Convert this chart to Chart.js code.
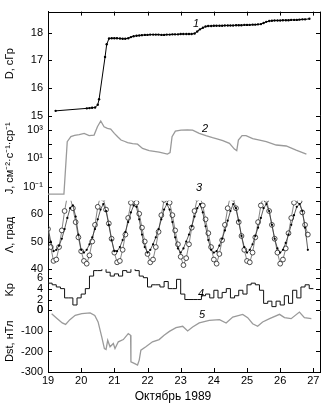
<!DOCTYPE html>
<html>
<head>
<meta charset="utf-8">
<script src="https://cdn.jsdelivr.net/npm/chart.js@4"></script>
<style>
  body { margin: 0; background: #fff; }
  canvas { display: block; }
</style>
</head>
<body>
<canvas id="chart" width="329" height="405"></canvas>
<script>
// 1 - доза D, сГр
const doseDays = [19.23, 20.17, 20.25, 20.33, 20.42, 20.5, 20.54, 20.72, 20.77, 20.84,
  20.92, 21.0, 21.08, 21.17, 21.25, 21.33, 21.42, 21.5, 21.58, 21.67,
  21.75, 21.83, 21.92, 22.0, 22.08, 22.17, 22.25, 22.33, 22.42, 22.5,
  22.58, 22.67, 22.75, 22.83, 22.92, 23.0, 23.08, 23.17, 23.25, 23.33,
  23.42, 23.5, 23.58, 23.67, 23.75, 23.83, 23.92, 24.0, 24.08, 24.17,
  24.25, 24.33, 24.42, 24.5, 24.58, 24.67, 24.75, 24.83, 24.92, 25.0,
  25.08, 25.17, 25.25, 25.33, 25.42, 25.5, 25.58, 25.67, 25.75, 25.83,
  25.92, 26.0, 26.08, 26.17, 26.25, 26.33, 26.42, 26.5, 26.58, 26.67,
  26.75, 26.88];
const doseValues = [15.18, 15.27, 15.28, 15.29, 15.3, 15.4, 15.6, 17.12, 17.58, 17.79,
  17.8, 17.8, 17.8, 17.79, 17.78, 17.78, 17.8, 17.84, 17.87, 17.89,
  17.9, 17.91, 17.92, 17.92, 17.93, 17.93, 17.93, 17.93, 17.92, 17.92,
  17.93, 17.93, 17.94, 17.94, 17.94, 17.95, 17.95, 17.95, 17.95, 17.95,
  17.97, 18.04, 18.12, 18.18, 18.22, 18.24, 18.24, 18.25, 18.25, 18.25,
  18.25, 18.26, 18.26, 18.26, 18.26, 18.27, 18.27, 18.27, 18.28, 18.28,
  18.28, 18.29, 18.29, 18.3, 18.31, 18.35, 18.39, 18.42, 18.43, 18.44,
  18.44, 18.44, 18.45, 18.45, 18.45, 18.46, 18.46, 18.46, 18.47, 18.48,
  18.48, 18.5];

// 2 - поток J
const fluxDays = [19.0, 19.48, 19.58, 19.69, 19.8, 19.94, 20.09, 20.24, 20.39, 20.49,
  20.59, 20.69, 20.79, 20.89, 21.0, 21.1, 21.2, 21.3, 21.4, 21.55,
  21.7, 21.85, 22.05, 22.35, 22.6, 22.68, 22.74, 22.84, 23.01, 23.2,
  23.36, 23.56, 23.76, 23.96, 24.12, 24.27, 24.47, 24.62, 24.69, 24.74,
  24.85, 24.97, 25.17, 25.38, 25.58, 25.88, 26.18, 26.48, 26.79];
const fluxValues = [0.029, 0.029, 150, 340, 420, 470, 575, 400, 440, 1700,
  4300, 1700, 1290, 1150, 575, 330, 195, 160, 130, 107,
  100, 50, 35, 27, 20, 25, 340, 830, 980, 1000,
  980, 575, 400, 290, 230, 180, 115, 45, 35, 195,
  400, 400, 245, 190, 150, 87, 74, 38, 20];

// 3 - широта Λ, отсчёты через 2 часа с 19.0
const lamStart = 19;
const lamStep = 1 / 12;
const lamCircles = [
  54.5, 48, 43, 43.5, 48, 54, 61, 66.5, 66, 62, 57, 51.5,
  46.5, 43, 42, 45, 50, 56, 62.5, 66.5, 65.5, 61.5, 56.5, 51,
  46, 42.5, 43, 47, 52.5, 58.5, 64, 66.5, 64, 60, 55, 50,
  45.5, 42.5, 43.5, 48, 53.5, 59.5, 65, 66.5, 64, 59.5, 54, 49,
  44.5, 41.5, 44, 49, 55, 61, 65.5, 66, 63, 58, 53, 48,
  43.5, 42, 45.5, 50.5, 56, 62, 66.5, 65.5, 62, 57, 52, 47,
  43, 42.5, 46, 51.5, 57, 63, 66.5, 65, 61, 56, 51, 46,
  42, 43.5, 47.5, 53, 58.5, 64, 66.5, 64.5, 60.5, 56, 52.5];
const lamDots = [
  55, 50, 46.5, 47, 48.5, 51, 54.5, 58.5, 62, 63, 59, 52.5,
  47, 46, 47, 49, 51.5, 54.5, 58, 61.5, 63.5, 61, 56, 50.5,
  46.5, 46.5, 48, 50.5, 53.5, 57, 60.5, 63, 62.5, 58, 52.5, 48,
  46, 47, 49, 51.5, 54.5, 58, 61.5, 63.5, 61.5, 57, 51.5, 47.5,
  46, 47.5, 50, 52.5, 55.5, 59, 62, 63.5, 60.5, 55.5, 50.5, 47,
  46, 46.5, 48.5, 51, 54, 57.5, 61, 63.5, 62, 57.5, 52, 48,
  46, 47, 49, 52, 55, 58.5, 62, 63.5, 61, 56, 51, 47.5,
  46, 47, 49.5, 52.5, 56, 59.5, 62.5, 63.5, 61, 55, 47];

// 4 - Kp, трёхчасовые интервалы с 19.0
const kpStart = 19;
const kpStep = 1 / 8;
const kpValues = [
  5.3, 5.0, 4.7, 4.3, 4.0, 2.3, 2.3, 1.0,
  2.3, 3.0, 4.0, 6.3, 7.3, 7.3, 7.7, 7.0,
  6.3, 6.7, 6.3, 7.3, 7.0, 7.7, 7.3, 6.3,
  6.0, 4.3, 4.7, 4.7, 4.3, 5.3, 4.0, 4.0,
  5.7, 3.0, 2.0, 2.0, 2.0, 2.0, 2.7, 3.0,
  2.3, 3.7, 2.3, 3.3, 4.0, 2.3, 2.7, 3.7,
  3.0, 4.7, 5.0, 4.7, 3.7, 1.3, 1.7, 0.7,
  1.7, 1.0, 2.7, 1.3, 3.7, 2.3, 4.3, 4.7,
  4.0];

// 5 - Dst, нТл
const dstDays = [19.11, 19.28, 19.43, 19.53, 19.66, 19.82, 20.02, 20.27, 20.41, 20.51,
  20.62, 20.7, 20.75, 20.8, 20.87, 20.97, 21.02, 21.12, 21.27, 21.42,
  21.49, 21.5, 21.6, 21.7, 21.75, 21.8, 21.95, 22.15, 22.35, 22.5,
  22.66, 22.86, 23.06, 23.21, 23.36, 23.56, 23.86, 24.17, 24.37, 24.57,
  24.87, 25.02, 25.17, 25.32, 25.47, 25.68, 25.98, 26.13, 26.33, 26.58,
  26.73, 26.94];
const dstValues = [-16, -40, -61, -68, -45, -24, -16, -12, -24, -56,
  -129, -186, -190, -145, -177, -161, -186, -153, -142, -113,
  -121, -250, -258, -266, -242, -194, -177, -153, -142, -121,
  -102, -84, -77, -100, -81, -61, -48, -45, -61, -32,
  -19, -35, -65, -77, -56, -40, -19, -35, -40, -8,
  -35, -40];

// подписи осей
const dayTicks = [19, 20, 21, 22, 23, 24, 25, 26, 27];
const doseTicks = [15, 16, 17, 18];
const fluxTicks = [0.01, 0.1, 1, 10, 100, 1000];
const fluxLabels = { 0.1: '10⁻¹', 10: '10¹', 1000: '10³' };
const lamTicks = [40, 50, 60];
const kpTicks = [0, 2, 4, 6];
const dstTicks = [-300, -200, -100, 0];
const xTitle = 'Октябрь 1989';

const pairs = (xs, ys) => ys.map((v, i) => ({ x: xs[i], y: v }));
const lamData = arr => arr.map((v, i) => ({ x: lamStart + i * lamStep, y: v }));
const kpData = kpValues.map((v, i) => ({ x: kpStart + i * kpStep, y: v }));

const fontTick = { family: 'Liberation Sans, Arial, sans-serif', size: 11 };
const fontTitle = { family: 'Liberation Sans, Arial, sans-serif', size: 11 };

function yScale(title, min, max, weight, ticks, extra) {
  return Object.assign({
    type: 'linear',
    position: 'left',
    stack: 'panels',
    stackWeight: weight,
    min: min,
    max: max,
    grid: { display: false, drawTicks: false },
    border: { display: true, color: '#000', width: 1 },
    ticks: { padding: 5, color: '#000', font: fontTick, autoSkip: false },
    title: { display: true, text: title, color: '#000', font: fontTitle, padding: { top: 3, bottom: 0 } },
    afterBuildTicks: s => { s.ticks = ticks.map(v => ({ value: v })); },
    afterFit: s => { s.width = 48; }
  }, extra || {});
}

const inner = {
  id: 'inner',
  afterDraw(chart) {
    const { ctx, chartArea: a, scales } = chart;
    ctx.save();
    ctx.strokeStyle = '#000';
    ctx.lineWidth = 1;
    ctx.beginPath();
    ['yD', 'yJ', 'yL', 'yK', 'yS'].forEach(id => {
      const s = scales[id];
      ctx.moveTo(a.right + 0.5, s.top);
      ctx.lineTo(a.right + 0.5, s.bottom);
      s.ticks.forEach(t => {
        const y = Math.round(s.getPixelForValue(t.value)) + 0.5;
        ctx.moveTo(a.left, y); ctx.lineTo(a.left + 4, y);
        ctx.moveTo(a.right, y); ctx.lineTo(a.right - 4, y);
      });
    });
    // верхняя рамка и метки по X
    ctx.moveTo(a.left, Math.round(a.top) + 0.5);
    ctx.lineTo(a.right + 1, Math.round(a.top) + 0.5);
    const sx = scales.x;
    dayTicks.forEach(d => {
      const x = Math.round(sx.getPixelForValue(d)) + 0.5;
      ctx.moveTo(x, a.top); ctx.lineTo(x, a.top + 4);
      ctx.moveTo(x, a.bottom); ctx.lineTo(x, a.bottom - 4);
    });
    ctx.stroke();

    // номера кривых
    ctx.fillStyle = '#000';
    ctx.font = 'italic 11px Liberation Sans, Arial, sans-serif';
    ctx.textAlign = 'center';
    ctx.textBaseline = 'middle';
    ctx.fillText('1', 196, 24);
    ctx.fillText('2', 205, 129);
    ctx.fillText('3', 199, 188);
    ctx.fillText('4', 201, 294);
    ctx.fillText('5', 202, 315);

    ctx.font = '12px Liberation Sans, Arial, sans-serif';
    ctx.fillText(xTitle, 173, 397);
    ctx.restore();
  }
};

const chart = new Chart(document.getElementById('chart').getContext('2d'), {
  type: 'line',
  data: {
    datasets: [
      {
        data: pairs(doseDays, doseValues), yAxisID: 'yD',
        borderColor: '#000', borderWidth: 1, pointRadius: 1.2,
        pointBackgroundColor: '#000', pointBorderWidth: 0
      },
      {
        data: pairs(fluxDays, fluxValues), yAxisID: 'yJ',
        borderColor: '#9a9a9a', borderWidth: 1.3, pointRadius: 0
      },
      {
        data: lamData(lamDots), yAxisID: 'yL',
        borderColor: '#333', borderWidth: 0.8, pointRadius: 1.1,
        pointBackgroundColor: '#000', pointBorderWidth: 0
      },
      {
        data: lamData(lamCircles), yAxisID: 'yL',
        borderColor: '#666', borderWidth: 0.8, pointRadius: 2.4,
        pointBackgroundColor: '#fff', pointBorderColor: '#222', pointBorderWidth: 0.8
      },
      {
        data: kpData, yAxisID: 'yK', stepped: 'after',
        borderColor: '#111', borderWidth: 1, pointRadius: 0
      },
      {
        data: pairs(dstDays, dstValues), yAxisID: 'yS',
        borderColor: '#9a9a9a', borderWidth: 1.3, pointRadius: 0
      }
    ]
  },
  options: {
    responsive: false,
    animation: false,
    devicePixelRatio: 1,
    layout: { padding: { top: 9, right: 9, left: 0, bottom: 0 } },
    plugins: { legend: { display: false }, tooltip: { enabled: false } },
    scales: {
      x: {
        type: 'linear', position: 'bottom', min: 19, max: 27.2,
        grid: { display: false, drawTicks: false },
        border: { display: true, color: '#000', width: 1 },
        ticks: { padding: 2, color: '#000', font: fontTick, maxRotation: 0, autoSkip: false },
        afterBuildTicks: s => { s.ticks = dayTicks.map(v => ({ value: v })); },
        afterFit: s => { s.height = 33; }
      },
      yS: yScale('Dst, нТл', -300, 0, 62, dstTicks),
      yK: yScale('Kp', 0, 7.55, 41.5, kpTicks),
      yL: yScale('Λ, град', 40, 64.7, 69, lamTicks),
      yJ: yScale('J, см⁻²·с⁻¹·ср⁻¹', 0.01, 10000, 85.5, fluxTicks, {
        type: 'logarithmic',
        ticks: {
          padding: 5, color: '#000', font: fontTick, autoSkip: false,
          callback: v => fluxLabels[v] || ''
        }
      }),
      yD: yScale('D, сГр', 15, 18.76, 105, doseTicks)
    }
  },
  plugins: [inner]
});
</script>
</body>
</html>
